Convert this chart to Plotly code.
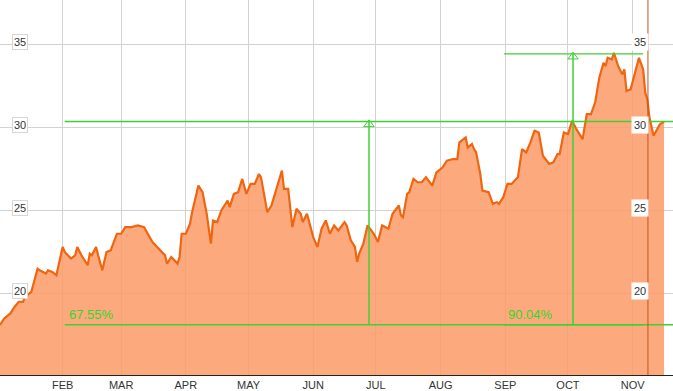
import plotly.graph_objects as go

# ---- price series ----
dates = [
    "2013-01-02", "2013-01-04", "2013-01-07", "2013-01-09", "2013-01-11", "2013-01-13",
    "2013-01-14", "2013-01-17", "2013-01-20", "2013-01-21", "2013-01-24", "2013-01-25",
    "2013-01-27", "2013-01-29", "2013-02-01", "2013-02-02", "2013-02-05", "2013-02-07",
    "2013-02-08", "2013-02-10", "2013-02-13", "2013-02-14", "2013-02-15", "2013-02-17",
    "2013-02-18", "2013-02-20", "2013-02-22", "2013-02-24", "2013-02-27", "2013-03-01",
    "2013-03-03", "2013-03-06", "2013-03-09", "2013-03-12", "2013-03-16", "2013-03-22",
    "2013-03-23", "2013-03-25", "2013-03-28", "2013-03-29", "2013-03-30", "2013-04-01",
    "2013-04-03", "2013-04-04", "2013-04-07", "2013-04-09", "2013-04-11", "2013-04-13",
    "2013-04-14", "2013-04-16", "2013-04-18", "2013-04-21", "2013-04-22", "2013-04-24",
    "2013-04-26", "2013-04-28", "2013-04-30", "2013-05-02", "2013-05-04", "2013-05-06",
    "2013-05-07", "2013-05-09", "2013-05-10", "2013-05-12", "2013-05-15", "2013-05-17",
    "2013-05-18", "2013-05-20", "2013-05-22", "2013-05-24", "2013-05-26", "2013-05-27",
    "2013-05-29", "2013-05-31", "2013-06-01", "2013-06-03", "2013-06-05", "2013-06-07",
    "2013-06-09", "2013-06-11", "2013-06-13", "2013-06-16", "2013-06-17", "2013-06-19",
    "2013-06-21", "2013-06-22", "2013-06-23", "2013-06-25", "2013-06-27", "2013-06-30",
    "2013-07-02", "2013-07-04", "2013-07-07", "2013-07-09", "2013-07-12", "2013-07-13",
    "2013-07-14", "2013-07-16", "2013-07-17", "2013-07-19", "2013-07-21", "2013-07-23",
    "2013-07-25", "2013-07-28", "2013-07-30", "2013-08-02", "2013-08-04", "2013-08-07",
    "2013-08-09", "2013-08-10", "2013-08-13", "2013-08-14", "2013-08-16", "2013-08-17",
    "2013-08-18", "2013-08-20", "2013-08-21", "2013-08-24", "2013-08-26", "2013-08-28",
    "2013-08-29", "2013-08-31", "2013-09-02", "2013-09-04", "2013-09-07", "2013-09-09",
    "2013-09-11", "2013-09-13", "2013-09-15", "2013-09-17", "2013-09-19", "2013-09-22",
    "2013-09-24", "2013-09-26", "2013-09-27", "2013-09-29", "2013-10-01", "2013-10-03",
    "2013-10-05", "2013-10-08", "2013-10-10", "2013-10-12", "2013-10-14", "2013-10-16",
    "2013-10-18", "2013-10-19", "2013-10-20", "2013-10-22", "2013-10-23", "2013-10-25",
    "2013-10-27", "2013-10-28", "2013-10-29", "2013-10-31", "2013-11-02", "2013-11-04",
    "2013-11-06", "2013-11-07", "2013-11-08", "2013-11-09", "2013-11-11", "2013-11-13",
    "2013-11-14", "2013-11-16",
]
prices = [
    18.1, 18.5, 18.8, 19.2, 19.5, 19.5,
    19.8, 20.1, 21.5, 21.4, 21.2, 21.4,
    21.3, 21.1, 22.8, 22.5, 22.1, 22.3,
    22.8, 22.3, 21.7, 22.4, 22.3, 22.8,
    22.3, 21.4, 22.5, 22.6, 23.6, 23.6,
    24.0, 24.0, 24.1, 24.0, 23.1, 22.3,
    21.8, 22.2, 21.8, 22.2, 23.6, 23.6,
    24.2, 24.9, 26.5, 26.1, 24.8, 23.0,
    24.4, 24.3, 25.0, 25.6, 25.2, 26.0,
    26.1, 26.9, 26.0, 26.6, 26.6, 27.2,
    27.0, 25.6, 24.9, 25.3, 26.5, 27.4,
    26.3, 26.3, 24.0, 25.1, 24.8, 24.3,
    24.8, 23.9, 23.4, 22.8, 23.9, 24.4,
    23.6, 24.1, 23.8, 24.3, 24.1, 23.2,
    22.8, 21.9, 22.4, 23.0, 24.1, 23.6,
    23.1, 24.1, 23.9, 24.8, 25.3, 24.7,
    24.6, 26.0, 26.1, 26.9, 26.7, 26.7,
    27.0, 26.5, 27.3, 27.6, 28.0, 28.1,
    28.1, 29.1, 29.4, 28.8, 29.0, 28.7,
    28.5, 27.2, 26.2, 26.1, 25.4, 25.5,
    25.4, 25.8, 26.6, 26.6, 27.0, 28.7,
    28.5, 29.1, 29.8, 29.7, 28.3, 27.8,
    27.9, 28.4, 28.4, 29.7, 29.6, 30.4,
    29.9, 29.3, 30.8, 30.8, 31.5, 33.0,
    33.9, 33.7, 34.2, 34.1, 34.5, 33.7,
    33.2, 33.5, 32.2, 32.3, 33.3, 34.2,
    33.5, 32.1, 31.7, 30.6, 29.5, 30.0,
    30.2, 30.35,
]

# ---- axis ticks ----
month_ticks = ["2013-02-01", "2013-03-01", "2013-04-01", "2013-05-01", "2013-06-01",
               "2013-07-01", "2013-08-01", "2013-09-01", "2013-10-01", "2013-11-01"]
month_labels = ["FEB", "MAR", "APR", "MAY", "JUN", "JUL", "AUG", "SEP", "OCT", "NOV"]
y_ticks = [20, 25, 30, 35]

# ---- measurement annotations ----
base_low = 18.12
measure_pcts = [67.55, 90.04]
measure_starts = ["2013-02-02", "2013-08-31 10:00"]
measure_ends = ["2013-11-20 07:00", "2013-11-06"]
measure_verticals = ["2013-06-27 17:00", "2013-10-03 10:00"]
marker_date = "2013-11-08 07:00"

x_range = ["2013-01-02", "2013-11-20 07:00"]
y_range = [15.09, 37.68]

GREEN = "#3fd035"
fig = go.Figure()
fig.add_trace(go.Scatter(
    x=dates, y=prices, mode="lines",
    line=dict(color="#f0650f", width=2.2),
    fill="tozeroy", fillcolor="rgba(252,156,104,0.86)",
    hoverinfo="x+y", showlegend=False,
))

shapes = []
annotations = []
tri_x, tri_y = [], []
for pct, xs, xe, xv in zip(measure_pcts, measure_starts, measure_ends, measure_verticals):
    level = base_low * (1 + pct / 100)
    shapes.append(dict(type="line", xref="x", yref="y", x0=xs, x1=xe, y0=level, y1=level,
                       layer="above", line=dict(color=GREEN, width=1.4)))
    shapes.append(dict(type="line", xref="x", yref="y", x0=xs, x1=xe, y0=base_low, y1=base_low,
                       layer="above", line=dict(color=GREEN, width=1.5)))
    shapes.append(dict(type="line", xref="x", yref="y", x0=xv, x1=xv, y0=base_low, y1=level,
                       layer="above", line=dict(color=GREEN, width=1.5)))
    tri_x.append(xv)
    tri_y.append(level - 0.17)
    annotations.append(dict(x=xs, y=base_low, xref="x", yref="y", text=f"{pct:.2f}%",
                            showarrow=False, xanchor="left", yanchor="bottom", xshift=2, yshift=1,
                            font=dict(family="Liberation Sans, Arial", size=13, color="#3ad42a")))

fig.add_trace(go.Scatter(
    x=tri_x, y=tri_y, mode="markers",
    marker=dict(symbol="triangle-up", size=9, color="white", line=dict(color=GREEN, width=1)),
    hoverinfo="skip", showlegend=False,
))

shapes.append(dict(type="line", xref="x", yref="paper", x0=marker_date, x1=marker_date, y0=0, y1=1,
                   line=dict(color="#c4521e", width=1)))

for v in y_ticks:
    annotations.append(dict(x=0.029, y=v, xref="paper", yref="y", text=str(v), showarrow=False,
                            xanchor="center", yanchor="middle", yshift=2,
                            bgcolor="white", bordercolor="#d6d6d6", borderwidth=1, borderpad=1,
                            width=12, height=12,
                            font=dict(family="Liberation Sans, Arial", size=11, color="#333")))
    annotations.append(dict(x=0.951, y=v, xref="paper", yref="y", text=str(v), showarrow=False,
                            xanchor="center", yanchor="middle", yshift=2,
                            bgcolor="white", borderpad=2, width=12, height=12,
                            font=dict(family="Liberation Sans, Arial", size=11, color="#333")))

fig.update_layout(
    width=673, height=391,
    margin=dict(l=0, r=0, t=0, b=16, pad=0),
    paper_bgcolor="white", plot_bgcolor="white",
    shapes=shapes, annotations=annotations,
    showlegend=False,
    xaxis=dict(type="date", range=x_range, tickvals=month_ticks, ticktext=month_labels,
               showgrid=True, gridcolor="#d2d2d2", gridwidth=1, zeroline=False,
               showline=True, linecolor="#222", linewidth=1, ticks="",
               tickfont=dict(family="Liberation Sans, Arial", size=11, color="#333")),
    yaxis=dict(range=y_range, tickvals=y_ticks, showticklabels=False,
               showgrid=True, gridcolor="#d2d2d2", gridwidth=1, zeroline=False),
)

fig.write_html("out.html")
